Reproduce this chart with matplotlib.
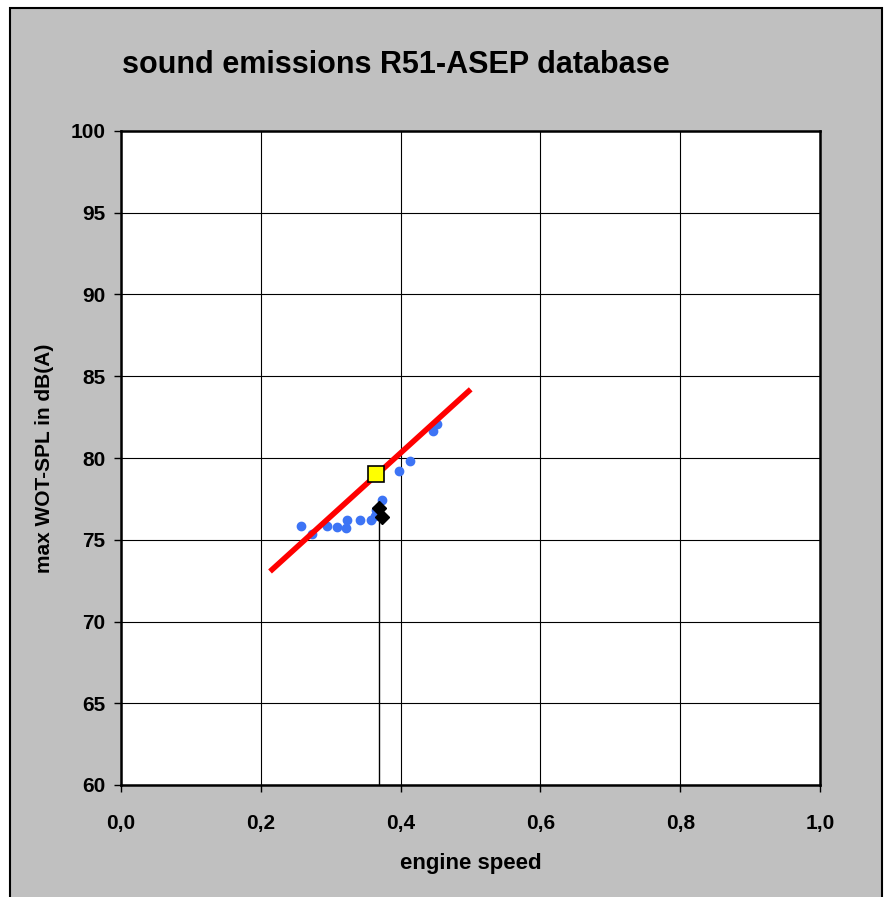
import matplotlib.pyplot as plt
from matplotlib.patches import Rectangle

# measured points (blue), reference point (yellow), vehicle (black)
speed_meas = [0.2575, 0.2736, 0.295, 0.309, 0.3214, 0.3237, 0.342, 0.3577,
              0.3634, 0.3655, 0.374, 0.397, 0.4134, 0.4457, 0.4515]
spl_meas = [75.86, 75.35, 75.86, 75.78, 75.70, 76.19, 76.23, 76.23,
            76.45, 76.85, 77.45, 79.2, 79.8, 81.63, 82.06]

fit_speed = [0.2132, 0.5003]
fit_spl = [73.06, 84.2]

ref_speed = [0.3648]
ref_spl = [79.04]

veh_speed = [0.3698, 0.3734]
veh_spl = [76.93, 76.39]
drop_speed = 0.3695

x_ticks = [0.0, 0.2, 0.4, 0.6, 0.8, 1.0]
x_labels = ['0,0', '0,2', '0,4', '0,6', '0,8', '1,0']
y_ticks = [60, 65, 70, 75, 80, 85, 90, 95, 100]

plt.rcParams['font.family'] = ['Liberation Sans', 'DejaVu Sans']

fig = plt.figure(figsize=(8.92, 8.97), dpi=100)
fig.patch.set_facecolor('white')
# grey chart area with black frame
fig.patches.append(Rectangle((10 / 892, -0.01), 872 / 892, 1 - 8 / 897 + 0.01,
                             transform=fig.transFigure, facecolor='#c0c0c0',
                             edgecolor='black', linewidth=1.5, zorder=-5))

ax = fig.add_axes([121 / 892, 112 / 897, 699 / 892, 654 / 897])
ax.set_zorder(2)
ax.set_facecolor('white')
ax.set_xlim(0, 1)
ax.set_ylim(60, 100)
ax.set_xticks(x_ticks)
ax.set_xticklabels(x_labels)
ax.set_yticks(y_ticks)
ax.grid(True, color='black', linewidth=0.8)
ax.set_axisbelow(True)
for s in ax.spines.values():
    s.set_linewidth(1.8)
ax.tick_params(direction='out', length=5, width=1, labelsize=15, pad=6)
for lbl in ax.get_xticklabels() + ax.get_yticklabels():
    lbl.set_fontweight('bold')
ax.tick_params(axis='x', pad=16)

ax.vlines(drop_speed, 60, veh_spl[0], color='black', linewidth=1, zorder=3)
ax.plot(speed_meas, spl_meas, 'o', color='#3d74f5', markersize=6, zorder=4)
ax.plot(fit_speed, fit_spl, color='red', linewidth=4, solid_capstyle='butt', zorder=5)
ax.plot(veh_speed, veh_spl, 'D', color='black', markersize=7, zorder=6)
ax.plot(ref_speed, ref_spl, 's', color='yellow', markeredgecolor='black',
        markersize=11, markeredgewidth=1.2, zorder=7)

ax.set_xlabel('engine speed', fontsize=16, fontweight='bold', labelpad=14)
ax.set_ylabel('max WOT-SPL in dB(A)', fontsize=15, fontweight='bold', labelpad=12)

fig.text(122 / 892, 1 - 65 / 897, 'sound emissions R51-ASEP database',
         fontsize=22, fontweight='bold', ha='left', va='center')

fig.savefig('out.png', dpi=100)
